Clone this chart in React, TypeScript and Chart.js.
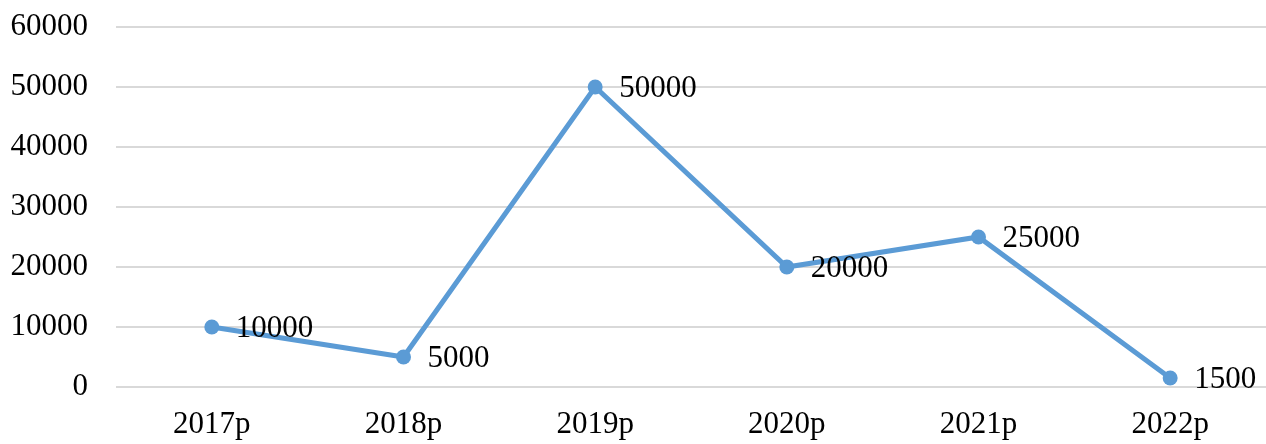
import React, { useEffect, useRef } from "react";
import { Chart, registerables } from "chart.js";

Chart.register(...registerables);

const categories = ["2017p", "2018p", "2019p", "2020p", "2021p", "2022p"];
const values = [10000, 5000, 50000, 20000, 25000, 1500];
const yTicks = [0, 10000, 20000, 30000, 40000, 50000, 60000];

const FONT_FAMILY = "'Liberation Serif', 'Times New Roman', serif";
const LINE_COLOR = "#5B9BD5";

// Draws each point's value to the right of its marker.
const valueLabels = {
  id: "valueLabels",
  afterDatasetsDraw(chart: any) {
    const ctx = chart.ctx;
    const meta = chart.getDatasetMeta(0);
    const data = chart.data.datasets[0].data as number[];
    ctx.save();
    ctx.font = `31px ${FONT_FAMILY}`;
    ctx.fillStyle = "#000000";
    ctx.textAlign = "left";
    ctx.textBaseline = "middle";
    meta.data.forEach((pt: any, i: number) => {
      ctx.fillText(String(data[i]), pt.x + 24, pt.y + 2);
    });
    ctx.restore();
  },
};

export default function App() {
  const canvasRef = useRef<HTMLCanvasElement | null>(null);

  useEffect(() => {
    if (!canvasRef.current) return;
    const chart = new Chart(canvasRef.current, {
      type: "line",
      data: {
        labels: categories,
        datasets: [
          {
            data: values,
            borderColor: LINE_COLOR,
            backgroundColor: LINE_COLOR,
            borderWidth: 5,
            pointRadius: 7.5,
            pointBorderWidth: 0,
            pointBackgroundColor: LINE_COLOR,
            tension: 0,
          },
        ],
      },
      options: {
        animation: false,
        responsive: false,
        maintainAspectRatio: false,
        layout: { autoPadding: false, padding: { top: 27, right: 0, left: 0, bottom: 0 } },
        plugins: {
          legend: { display: false },
          tooltip: { enabled: false },
        },
        scales: {
          x: {
            offset: true,
            grid: { display: false, drawTicks: false },
            border: { display: false },
            ticks: {
              color: "#000000",
              font: { family: FONT_FAMILY, size: 31 },
              padding: 19,
              maxRotation: 0,
            },
            afterFit(scale: any) {
              scale.height = 57;
            },
          },
          y: {
            min: 0,
            max: 60000,
            afterBuildTicks(scale: any) {
              scale.ticks = yTicks.map((v) => ({ value: v }));
            },
            grid: {
              color: "#D9D9D9",
              lineWidth: 2,
              drawTicks: true,
              tickLength: 28,
              tickColor: "rgba(0,0,0,0)",
            },
            border: { display: false },
            ticks: {
              color: "#000000",
              font: { family: FONT_FAMILY, size: 31 },
              padding: 0,
              callback: (v: any) => String(v),
            },
            afterFit(scale: any) {
              scale.width = 116;
            },
          },
        },
      },
      plugins: [valueLabels],
    });
    return () => chart.destroy();
  }, []);

  return (
    <div style={{ position: "fixed", left: 0, top: 0, width: 1266, height: 444, background: "#ffffff" }}>
      <canvas ref={canvasRef} width={1266} height={444} />
    </div>
  );
}
